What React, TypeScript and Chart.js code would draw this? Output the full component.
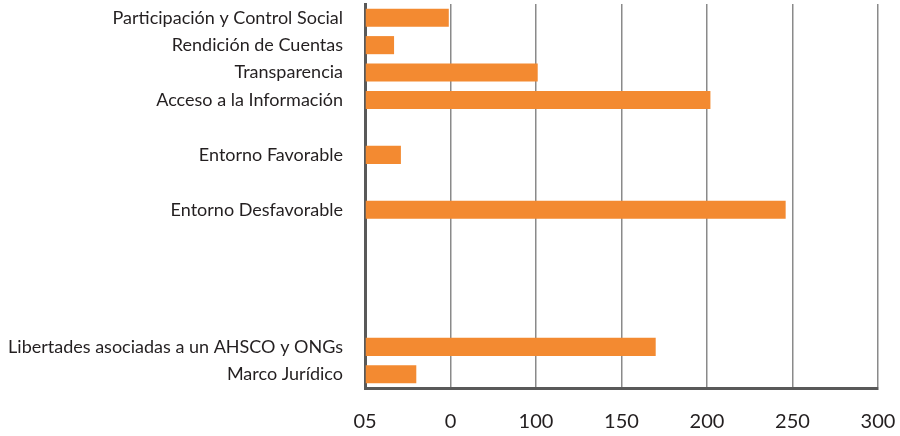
import React, { useEffect, useRef } from "react";
import { Chart, registerables } from "chart.js";

Chart.register(...registerables);

const categories = [
  "Participación y Control Social",
  "Rendición de Cuentas",
  "Transparencia",
  "Acceso a la Información",
  "",
  "Entorno Favorable",
  "",
  "Entorno Desfavorable",
  "",
  "",
  "",
  "",
  "Libertades asociadas a un AHSCO y ONGs",
  "Marco Jurídico",
];

const values: (number | null)[] = [49, 17, 101, 202, null, 21, null, 246, null, null, null, null, 170, 30];

const tickValues = [0, 50, 100, 150, 200, 250, 300];
const tickLabels = ["05", "0", "100", "150", "200", "250", "300"];

export default function App() {
  const ref = useRef<HTMLCanvasElement | null>(null);

  useEffect(() => {
    if (!ref.current) return;
    const chart = new Chart(ref.current, {
      type: "bar",
      data: {
        labels: categories,
        datasets: [
          {
            data: values,
            backgroundColor: "#F38A31",
            borderWidth: 0,
            barPercentage: 0.66,
            categoryPercentage: 1,
          },
        ],
      },
      options: {
        indexAxis: "y",
        animation: false,
        responsive: false,
        maintainAspectRatio: false,
        layout: { padding: { top: 4, right: 22, left: 0, bottom: 0 } },
        plugins: { legend: { display: false }, tooltip: { enabled: false } },
        scales: {
          x: {
            min: 0,
            max: 300,
            afterBuildTicks: (s: any) => {
              s.ticks = tickValues.map((v) => ({ value: v }));
            },
            afterFit: (s: any) => {
              s.height = 48;
              s.paddingLeft = 0;
              s.paddingRight = 0;
              s.paddingTop = 0;
              s.paddingBottom = 0;
            },
            grid: {
              display: true,
              drawOnChartArea: true,
              drawTicks: false,
              color: "#8a8a8a",
              lineWidth: 1.5,
            },
            border: { display: true, color: "#595959", width: 3 },
            ticks: {
              padding: 22,
              color: "#231f20",
              font: { family: "Lato", size: 20 },
              callback: (v: any) => {
                const i = tickValues.indexOf(Number(v));
                return i >= 0 ? tickLabels[i] : "";
              },
            },
          },
          y: {
            afterFit: (s: any) => {
              s.width = 365;
              s.paddingLeft = 0;
              s.paddingRight = 0;
              s.paddingTop = 0;
              s.paddingBottom = 0;
            },
            grid: { display: false, drawTicks: false },
            border: { display: true, color: "#595959", width: 3 },
            ticks: {
              autoSkip: false,
              padding: 22,
              color: "#231f20",
              font: { family: "Lato", size: 18 },
            },
          },
        },
      },
    });
    return () => chart.destroy();
  }, []);

  return (
    <div style={{ position: "absolute", left: 0, top: 0, width: 900, height: 436, background: "#fff" }}>
      <canvas ref={ref} width={900} height={436} style={{ width: 900, height: 436 }} />
    </div>
  );
}
